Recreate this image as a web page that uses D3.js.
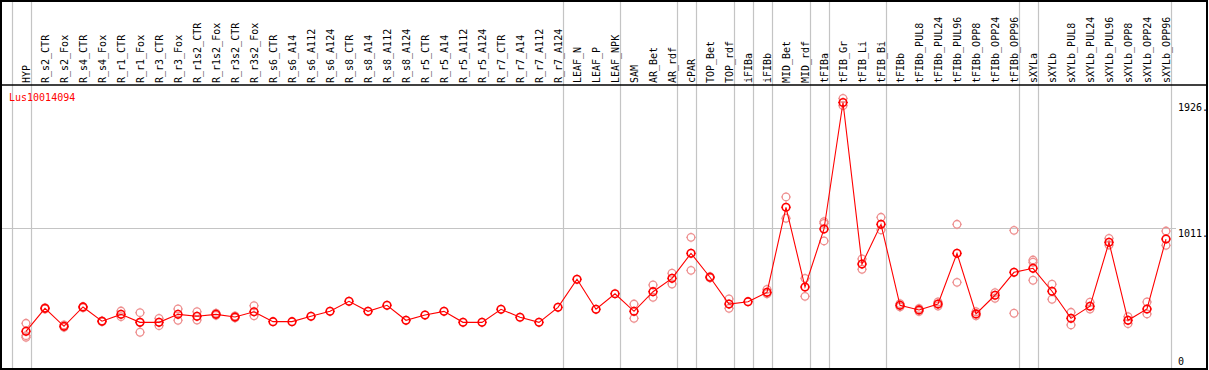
<!DOCTYPE html>
<html><head><meta charset="utf-8">
<script src="https://cdn.jsdelivr.net/npm/d3@7"></script>
<style>
html,body{margin:0;padding:0;background:#fff;}
svg{display:block;}
text{font-family:"DejaVu Sans Mono",monospace;font-size:10px;}
</style></head>
<body>
<svg id="chart" width="1209" height="370"></svg>
<script>
const categories = ["HYP","R_s2_CTR","R_s2_Fox","R_s4_CTR","R_s4_Fox","R_r1_CTR","R_r1_Fox","R_r3_CTR","R_r3_Fox","R_r1s2_CTR","R_r1s2_Fox","R_r3s2_CTR","R_r3s2_Fox","R_s6_CTR","R_s6_A14","R_s6_A112","R_s6_A124","R_s8_CTR","R_s8_A14","R_s8_A112","R_s8_A124","R_r5_CTR","R_r5_A14","R_r5_A112","R_r5_A124","R_r7_CTR","R_r7_A14","R_r7_A112","R_r7_A124","LEAF_N","LEAF_P","LEAF_NPK","SAM","AR_Bet","AR_rdf","cPAR","TOP_Bet","TOP_rdf","iFIBa","iFIBb","MID_Bet","MID_rdf","tFIBa","tFIB_Gr","tFIB_Li","tFIB_Bi","tFIBb","tFIBb_PUL8","tFIBb_PUL24","tFIBb_PUL96","tFIBb_OPP8","tFIBb_OPP24","tFIBb_OPP96","sXYLa","sXYLb","sXYLb_PUL8","sXYLb_PUL24","sXYLb_PUL96","sXYLb_OPP8","sXYLb_OPP24","sXYLb_OPP96"];

const meanValues = [262,429,298,439,335,385,327,327,385,371,385,366,404,332,332,371,407,480,407,451,342,380,407,327,327,422,364,327,436,640,422,535,407,550,647,829,655,460,477,545,1164,584,1006,1926,751,1040,451,417,460,829,388,524,691,720,553,356,444,909,342,424,933];

const replicateValues = [
 [320,230,218],[433,424],[308,291],[441,433],[338,332],[409,368],[397,255,327],[356,303],[424,342],[404,344],[394,378],[373,359],[448,375],
 [],[],[],[],[],[],[],[],[],[],[],[],[],[],[],[],[],[],[],
 [460,356],[599,509],[684,606],[945,705],[660,650],[497,429],[],[567,535],[1239,1084],[647,516],[1059,919,1047],[1956,1903],[713,788],[1091,999],
 [463,439],[428,406],[475,446],[1040,618],[404,375],[543,502],[996,393],[780,764,633],[604,495],[400,308],[473,424],[938,889],[368,317],[475,388],[991,887]
];

const groupEnds = [-1,0,28,31,34,35,37,38,39,41,42,45,52,53,60];
const tickValues = [0,1011,1926];
const tickLabels = ["0","1011.","1926."];
const geneName = "Lus10014094";

const headerBottom = 85, plotBottom = 369, rightEdge = 1207;
const svg = d3.select("#chart");

const x = d3.scalePoint().domain(categories).range([26, 26 + 19*(categories.length-1)]);
const step = x.step();
const y = d3.scaleLinear().domain([0, 1926]).range([367.3, 102.5]);
const idxX = i => 26 + i*step;

// vertical group separators
svg.append("g").selectAll("line").data(groupEnds).join("line")
  .attr("x1", d => Math.round(idxX(d) + step*0.25) + 0.5)
  .attr("x2", d => Math.round(idxX(d) + step*0.25) + 0.5)
  .attr("y1", 0).attr("y2", plotBottom)
  .attr("stroke", "#c4c4c4").attr("stroke-width", 1.2);

// horizontal gridline(s)
svg.append("g").selectAll("line").data(tickValues.filter(v => v > 0 && v < 1926)).join("line")
  .attr("x1", 0).attr("x2", 1176)
  .attr("y1", d => Math.round(y(d)) + 0.5).attr("y2", d => Math.round(y(d)) + 0.5)
  .attr("stroke", "#c4c4c4").attr("stroke-width", 1.2);

// header labels
svg.append("g").selectAll("text").data(categories).join("text")
  .attr("transform", d => `translate(${x(d) + 3.5},83) rotate(-90)`)
  .attr("fill", "#000")
  .text(d => d);

// gene name
svg.append("text").attr("x", 9).attr("y", 101).attr("fill", "#ff0000").text(geneName);

// y tick labels
svg.append("g").selectAll("text").data(tickValues).join("text")
  .attr("x", 1178)
  .attr("y", (d,i) => Math.min(y(d) + 8.5, 365))
  .attr("fill", "#000")
  .text((d,i) => tickLabels[i]);

// marker helper
function marker(g, r, color, sw) {
  g.append("circle").attr("r", r).attr("fill", "none").attr("stroke", color).attr("stroke-width", sw);
  g.append("path").attr("d", `M0,${-r-1.2}V${-r}M0,${r}V${r+1.2}M${-r-1.2},0H${-r}M${r},0H${r+1.2}`)
    .attr("stroke", color).attr("stroke-width", 0.8);
}

// replicates
const reps = [];
replicateValues.forEach((arr, i) => arr.forEach(v => reps.push({c: categories[i], v})));
svg.append("g").selectAll("g").data(reps).join("g")
  .attr("transform", d => `translate(${x(d.c)},${y(d.v)})`)
  .each(function(){ marker(d3.select(this), 3.8, "#ee9090", 1.3); });

// mean line
const line = d3.line().x((d,i) => x(categories[i])).y(d => y(d));
svg.append("path").datum(meanValues).attr("d", line)
  .attr("fill", "none").attr("stroke", "#ff0000").attr("stroke-width", 1.1);

// means
svg.append("g").selectAll("g").data(meanValues).join("g")
  .attr("transform", (d,i) => `translate(${x(categories[i])},${y(d)})`)
  .each(function(){ marker(d3.select(this), 3.8, "#ff0000", 1.6); });

// header separator and frame
svg.append("line").attr("x1", 0).attr("x2", rightEdge).attr("y1", headerBottom).attr("y2", headerBottom)
  .attr("stroke", "#000").attr("stroke-width", 1.5);
svg.append("rect").attr("x", 1).attr("y", 1).attr("width", rightEdge - 1).attr("height", plotBottom - 1)
  .attr("fill", "none").attr("stroke", "#000").attr("stroke-width", 2);
</script>
</body></html>
